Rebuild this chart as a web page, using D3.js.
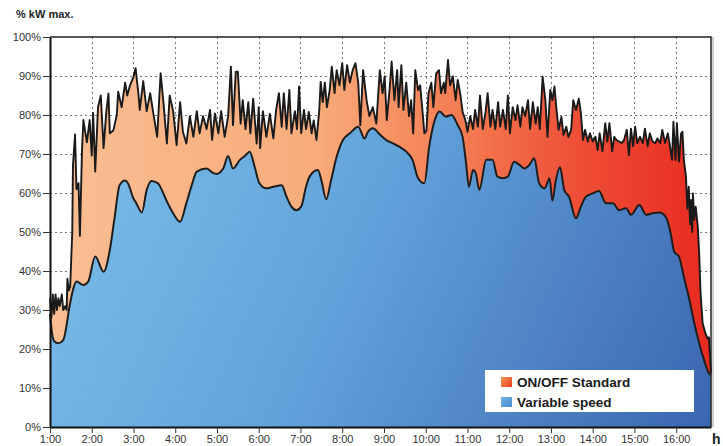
<!DOCTYPE html>
<html>
<head>
<meta charset="utf-8">
<script src="https://cdn.jsdelivr.net/npm/d3@7"></script>
<style>
  html, body { margin: 0; padding: 0; background: #fff; }
  svg { display: block; font-family: "Liberation Sans", Arial, Helvetica, sans-serif; }
</style>
</head>
<body>
<svg id="chart" width="723" height="446"></svg>
<script>
// minutes after 1:00, % kW max
var onOffStandard = [
  [0,33],[2,28],[4,34],[6,29],[8,34],[10,30],[12,33],[14,31],[17,34],[19,30],[22,31],[24,30],
  [25,38],[27,35],[29,36],[32,50],[33,67],[36,75],[38,61],[41,62.5],[43,49],[46,71],[48,78.7],
  [53,73],[57,78.7],[60,69.6],[62,80.5],[65,65.5],[69,82],[73,85],[77,71.5],[81,81],[84,85.5],
  [86,75.3],[91,76],[96,80],[98,86],[103,82],[108,88.3],[111,85],[115,87.6],[120,89.8],[123,92],
  [127,85.6],[129,81.3],[134,88.7],[139,81],[144,85.6],[148,81],[154,74.4],[159,90.7],[163,83.3],
  [168,72.7],[172,85],[177,81],[182,72.3],[187,83.3],[191,75.7],[196,72.7],[201,79.7],[206,74.4],
  [211,81],[215,75.3],[220,79.7],[225,76.4],
  [230,81.3],[233,73.6],[237,80.4],[242,75.3],[246,81],[251,74.4],[256,79.7],[260,92.4],[263,77.4],
  [267,91.1],[270,91.1],[274,77.8],[277,83.8],[281,76.4],[285,83.3],[288,75.3],[292,84.2],[297,72.7],
  [300,82],[302,71.5],[306,81],[311,74.4],[316,80.3],[321,74],[325,81.3],[329,85.6],[333,77],
  [336,85.6],[340,76.4],[344,86.4],[347,75.3],[352,81],[355,76.4],[358,87.3],[361,75.3],[365,81.3],
  [368,76.4],[372,80.8],[376,75.3],[379,78.6],[383,73.6],[387,81.3],[389,88.5],[392,83.3],[395,88.3],
  [398,82],[402,86.4],[405,92.4],[409,85.6],[412,91.5],[416,87.6],[420,93.3],[423,86.4],[427,92.8],
  [431,88.3],[435,91.5],[439,93.3],[443,88.3],[446,77.4],[450,91.5],[455,83.8],[459,79.7],[464,82],
  [469,77.8],
  [474,91.5],[478,85.6],[481,89.9],[484,78.7],[488,86.4],[491,93.7],[495,83.8],[499,91.5],[501,82],
  [505,92.8],[508,81.3],[512,88.3],[516,79.7],[519,83.8],[522,75.3],[525,91.5],[529,86.4],[532,87.6],
  [536,79.7],[538,75.3],[541,76],[544,85.6],[548,88.3],[551,82],[555,90.7],[559,91.5],[562,85.6],
  [566,88.3],[568,85.6],[572,94.1],[575,87.6],[579,89.9],[583,83.8],[586,89],[590,85],[593,80.8],
  [597,78.7],[600,75.7],[604,79.7],[608,76.4],[611,81.3],[615,77],[618,85],[622,76.4],[626,80.8],
  [629,85.6],[633,77],[636,81.3],[640,76.4],[644,83.3],[647,77],[651,81.3],[655,76.4],[658,85],
  [661,75.3],[665,82],[669,78.7],[672,82.5],[676,77],[679,82],[683,79.7],[687,83.8],[690,76.4],
  [694,83.3],[698,77.8],[701,82],[704,76.4],[708,89.8],[712,83.8],[715,74.4],[719,86.4],
  [722,83.8],[725,87.3],[728,81.3],[731,76.2],[735,79.5],[738,74.9],[742,77],[745,74.4],[749,76.2],
  [752,83.8],[756,81.3],[760,84.2],[763,80.5],[766,73.6],[769,76.2],[773,73.2],[776,75.3],[780,73.2],
  [784,74.4],[787,71],[790,75.3],[794,70.7],[798,77.9],[801,73.2],[804,77.9],[808,70.7],[811,74.4],
  [814,73.6],[818,73.2],[822,72.8],[825,73.6],[829,76.2],[832,69.7],[835,76.5],[838,72],[841,77],
  [844,72.8],[848,74.4],[852,72.8],[855,76.5],[859,72],[862,75.3],[866,73.2],[870,72.8],[873,74],
  [877,72.8],[880,76.2],[884,72.8],[888,75.3],[891,72],[894,68.5],[896,78.3],[899,68.5],[901,77.9],
  [904,68.1],[907,75.3],[909,75.7],[911,68.5],[914,64.2],[916,56],[918,61.6],[920,52],[921,58.2],
  [923,50],[924,59.9],[926,53.1],[928,56.5],[931,51.4],[933,44.5],[935,34.3],[938,26.6],[942,24],
  [945,22.7],[947,23],[950,13.8]
];

var variableSpeed = [
  [0,29],[3,24],[6,22],[12,21.5],[19,22.3],[29,31.8],[33,35.1],[38,37.3],[48,36.4],[55,37.3],
  [65,43.7],[77,39.8],[86,45.4],[93,53.9],[100,62],[108,63.2],[112,62.5],[120,58.6],[124,57.4],
  [132,55],[139,60.8],[146,63.1],[155,62.5],[168,57.8],[177,54.8],[187,52.6],[196,57.4],[203,61.6],
  [211,65.5],[225,66.3],[234,65.2],[239,64.9],[249,66.3],[256,69.5],[263,66.3],[273,68.5],[280,69.5],
  [287,70.6],[294,66.8],[301,62.5],[311,61.2],[321,61.6],[333,62],[340,59],[347,56.5],[354,55.6],
  [361,56.5],[368,61.6],[373,64.2],[385,65.9],[390,63.3],[397,58.4],[404,63.3],[412,69.3],[421,73.6],
  [431,75.3],[443,77],[452,74],[457,75.7],[464,76.6],[474,75],[483,73.6],[493,72.7],[502,71.9],
  [512,70.6],[521,68.5],[529,63.8],[538,62.5],[545,71.9],[553,78.7],[560,80.9],[569,79.6],[577,80],
  [586,77.4],[593,74.4],[598,67.6],[602,61.6],[608,65.9],[612,65],[617,60.8],[627,68.5],[636,68.5],
  [643,64.2],[651,63.8],[658,64.2],[667,68],[675,67.2],[682,66.3],[689,67.2],[696,68.9],[703,62.5],
  [711,61.2],[718,63.8],[722,58],[727,63.3],[733,66.6],[739,60.8],[746,59],[756,53.5],[763,56.5],
  [770,59],[780,59.9],[789,60.5],[799,57.4],[809,57.4],[818,55.6],[828,56.1],[835,54.4],[847,56.9],
  [857,54.4],[866,54.8],[876,55],[885,53.9],[892,49.7],[897,45],[904,43.7],[911,38.5],[919,32.6],
  [926,26.6],[933,21.5],[940,17.2],[947,13.8],[950,13.3]
];

var hourTicks = [0,60,120,180,240,300,360,420,480,540,600,660,720,780,840,900];
var hourLabels = ["1:00","2:00","3:00","4:00","5:00","6:00","7:00","8:00","9:00","10:00",
                  "11:00","12:00","13:00","14:00","15:00","16:00"];
var percentTicks = [0,10,20,30,40,50,60,70,80,90,100];

var seriesNames = ["ON/OFF Standard", "Variable speed"];

var svg = d3.select("#chart");
var plotLeft = 50, plotRight = 711, plotTop = 37, plotBottom = 427;

var x = d3.scaleLinear().domain([0, 950]).range([plotLeft, plotRight]);
var y = d3.scaleLinear().domain([0, 100]).range([plotBottom, plotTop]);

var defs = svg.append("defs");

var gOrange = defs.append("linearGradient")
    .attr("id", "onoff-grad")
    .attr("gradientUnits", "userSpaceOnUse")
    .attr("x1", plotLeft).attr("y1", 0).attr("x2", plotRight).attr("y2", 0);
gOrange.append("stop").attr("offset", "0%").attr("stop-color", "#f9be92");
gOrange.append("stop").attr("offset", "40%").attr("stop-color", "#f8ac7b");
gOrange.append("stop").attr("offset", "62%").attr("stop-color", "#f47c52");
gOrange.append("stop").attr("offset", "80%").attr("stop-color", "#ee4e36");
gOrange.append("stop").attr("offset", "100%").attr("stop-color", "#e82a20");

var gBlue = defs.append("linearGradient")
    .attr("id", "vs-grad")
    .attr("gradientUnits", "userSpaceOnUse")
    .attr("x1", plotLeft).attr("y1", 120).attr("x2", plotRight).attr("y2", plotBottom);
gBlue.append("stop").attr("offset", "0%").attr("stop-color", "#7cc0ea");
gBlue.append("stop").attr("offset", "45%").attr("stop-color", "#62a3da");
gBlue.append("stop").attr("offset", "100%").attr("stop-color", "#3b66b0");

var gLegOrange = defs.append("linearGradient")
    .attr("id", "leg-orange").attr("x1", 0).attr("y1", 0).attr("x2", 1).attr("y2", 1);
gLegOrange.append("stop").attr("offset", "0%").attr("stop-color", "#f39a50");
gLegOrange.append("stop").attr("offset", "100%").attr("stop-color", "#e83a22");

var gLegBlue = defs.append("linearGradient")
    .attr("id", "leg-blue").attr("x1", 0).attr("y1", 0).attr("x2", 1).attr("y2", 1);
gLegBlue.append("stop").attr("offset", "0%").attr("stop-color", "#6fb4e6");
gLegBlue.append("stop").attr("offset", "100%").attr("stop-color", "#4a8bd0");

// grid
var grid = svg.append("g").attr("stroke", "#777").attr("stroke-width", 1)
    .attr("stroke-dasharray", "2,3").attr("shape-rendering", "crispEdges");
grid.selectAll(".gx").data(hourTicks.slice(1)).enter().append("line")
    .attr("x1", function (d) { return Math.round(x(d)) + 0.5; })
    .attr("x2", function (d) { return Math.round(x(d)) + 0.5; })
    .attr("y1", plotTop).attr("y2", plotBottom);
grid.selectAll(".gy").data(percentTicks.slice(1, -1)).enter().append("line")
    .attr("y1", function (d) { return Math.round(y(d)) + 0.5; })
    .attr("y2", function (d) { return Math.round(y(d)) + 0.5; })
    .attr("x1", plotLeft).attr("x2", plotRight);

// areas
var areaOf = function (curve) {
    return d3.area()
        .x(function (d) { return x(d[0]); })
        .y0(y(0))
        .y1(function (d) { return y(d[1]); })
        .curve(curve);
};
var lineOf = function (curve) {
    return d3.line()
        .x(function (d) { return x(d[0]); })
        .y(function (d) { return y(d[1]); })
        .curve(curve);
};

svg.append("path").datum(onOffStandard)
    .attr("d", areaOf(d3.curveLinear))
    .attr("fill", "url(#onoff-grad)");

svg.append("path").datum(variableSpeed)
    .attr("d", areaOf(d3.curveMonotoneX))
    .attr("fill", "url(#vs-grad)");

svg.append("path").datum(onOffStandard)
    .attr("d", lineOf(d3.curveLinear))
    .attr("fill", "none")
    .attr("stroke", "#1a1a1a")
    .attr("stroke-width", 1.9)
    .attr("stroke-linejoin", "round");

svg.append("path").datum(variableSpeed)
    .attr("d", lineOf(d3.curveMonotoneX))
    .attr("fill", "none")
    .attr("stroke", "#1e1e1e")
    .attr("stroke-width", 2);

// frame
svg.append("line").attr("x1", plotRight + 2).attr("x2", plotRight + 2)
    .attr("y1", plotTop).attr("y2", plotBottom)
    .attr("stroke", "#cfcfcf").attr("stroke-width", 2);
svg.append("path")
    .attr("d", "M" + plotLeft + "," + plotTop + "H" + plotRight + "V" + plotBottom)
    .attr("fill", "none").attr("stroke", "#222").attr("stroke-width", 1.5);

// axes
var xAxis = d3.axisBottom(x)
    .tickValues(hourTicks)
    .tickFormat(function (d, i) { return hourLabels[i]; })
    .tickSize(6).tickSizeOuter(0);
var gx = svg.append("g").attr("transform", "translate(0," + plotBottom + ")").call(xAxis);
gx.select(".domain").attr("stroke", "#111").attr("stroke-width", 2);
gx.selectAll(".tick line").attr("stroke", "#333");
gx.selectAll(".tick text").attr("font-size", 11).attr("fill", "#333")
    .attr("font-family", "Liberation Sans, Arial, sans-serif").attr("dy", "0.6em");

var yAxis = d3.axisLeft(y)
    .tickValues(percentTicks)
    .tickFormat(function (d) { return d + "%"; })
    .tickSize(7).tickSizeOuter(0);
var gy = svg.append("g").attr("transform", "translate(" + plotLeft + ",0)").call(yAxis);
gy.select(".domain").attr("stroke", "#111").attr("stroke-width", 2);
gy.selectAll(".tick line").attr("stroke", "#333");
gy.selectAll(".tick text").attr("font-size", 11).attr("fill", "#333")
    .attr("font-family", "Liberation Sans, Arial, sans-serif").attr("x", -9);

svg.append("text").attr("x", 16).attr("y", 18)
    .attr("font-size", 11).attr("font-weight", "bold").attr("fill", "#222")
    .text("% kW max.");
svg.append("text").attr("x", 712).attr("y", 444)
    .attr("font-size", 14).attr("font-weight", "bold").attr("fill", "#222")
    .text("h");

// legend
var legend = svg.append("g");
legend.append("rect").attr("x", 485).attr("y", 370).attr("width", 209).attr("height", 42)
    .attr("fill", "#fff");
var legFills = ["url(#leg-orange)", "url(#leg-blue)"];
seriesNames.forEach(function (name, i) {
    legend.append("rect").attr("x", 501).attr("y", 377 + i * 20)
        .attr("width", 11).attr("height", 10).attr("fill", legFills[i]);
    legend.append("text").attr("x", 517).attr("y", 387 + i * 20)
        .attr("font-size", 13.5).attr("font-weight", "bold").attr("fill", "#1a1a1a")
        .text(name);
});
</script>
</body>
</html>
